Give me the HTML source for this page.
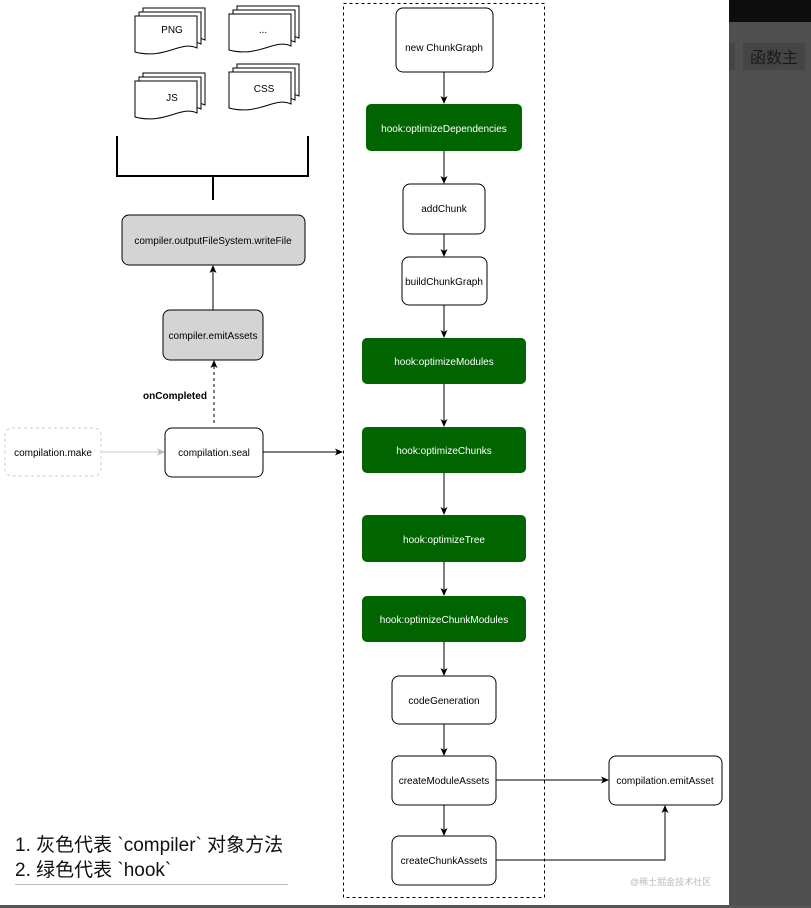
<!DOCTYPE html>
<html><head><meta charset="utf-8"><style>
html,body{margin:0;padding:0;background:#fff;width:811px;height:908px;overflow:hidden}
svg text{font-family:"Liberation Sans","Noto Sans CJK SC",sans-serif}
</style></head><body>
<svg width="811" height="908" viewBox="0 0 811 908" xmlns="http://www.w3.org/2000/svg">
<defs>
<marker id="a" markerWidth="8" markerHeight="8" refX="7" refY="4" orient="auto" markerUnits="userSpaceOnUse"><path d="M0,0.5 L8,4 L0,7.5 L2,4 Z" fill="#000"/></marker>
<marker id="g" markerWidth="8" markerHeight="8" refX="7" refY="4" orient="auto" markerUnits="userSpaceOnUse"><path d="M0,0.5 L8,4 L0,7.5 L2,4 Z" fill="#bbb"/></marker>
<g id="doc"><path d="M0,0 H62 V32 C46,24 30,44 0,36 Z" fill="#fff" stroke="#000" stroke-width="1"/></g>
</defs>
<!-- right dark panel -->
<rect x="729" y="0" width="82" height="908" fill="#4f4f4f"/>
<rect x="729" y="0" width="82" height="22" fill="#0d0d0d"/>
<rect x="729" y="43" width="6" height="27" fill="#454545"/>
<rect x="743" y="43" width="62" height="27" fill="#454545"/>
<text x="774" y="63" font-size="16" text-anchor="middle" fill="#1a1a1a">函数主</text>
<rect x="0" y="905" width="811" height="3" fill="#555"/>

<!-- docs -->
<g transform="translate(143,8)"><use href="#doc"/></g><g transform="translate(139,12)"><use href="#doc"/></g><g transform="translate(135,16)"><use href="#doc"/></g>
<text x="172" y="33" font-size="10" text-anchor="middle">PNG</text>
<g transform="translate(237,6)"><use href="#doc"/></g><g transform="translate(233,10)"><use href="#doc"/></g><g transform="translate(229,14)"><use href="#doc"/></g>
<text x="263" y="33" font-size="10" text-anchor="middle">...</text>
<g transform="translate(143,73)"><use href="#doc"/></g><g transform="translate(139,77)"><use href="#doc"/></g><g transform="translate(135,81)"><use href="#doc"/></g>
<text x="172" y="101" font-size="10" text-anchor="middle">JS</text>
<g transform="translate(237,64)"><use href="#doc"/></g><g transform="translate(233,68)"><use href="#doc"/></g><g transform="translate(229,72)"><use href="#doc"/></g>
<text x="264" y="92" font-size="10" text-anchor="middle">CSS</text>

<!-- bracket -->
<path d="M117,136 V176 H308 V136 M213,176 V200" fill="none" stroke="#000" stroke-width="2"/>

<rect x="122" y="215" width="183" height="50" rx="7" fill="#d4d4d4" stroke="#000"/>
<text x="213" y="244" font-size="10" text-anchor="middle">compiler.outputFileSystem.writeFile</text>
<line x1="213" y1="310" x2="213" y2="266" stroke="#000" marker-end="url(#a)"/>
<rect x="163" y="310" width="100" height="50" rx="7" fill="#d4d4d4" stroke="#000"/>
<text x="213" y="339" font-size="10" text-anchor="middle">compiler.emitAssets</text>
<line x1="214" y1="423" x2="214" y2="361" stroke="#000" stroke-dasharray="3,3" marker-end="url(#a)"/>
<text x="175" y="399" font-size="10" font-weight="bold" text-anchor="middle">onCompleted</text>

<rect x="5" y="428" width="96" height="48" rx="7" fill="#fff" stroke="#ccc" stroke-dasharray="3,3"/>
<text x="53" y="456" font-size="10" text-anchor="middle">compilation.make</text>
<line x1="101" y1="452" x2="164" y2="452" stroke="#ccc" marker-end="url(#g)"/>
<rect x="165" y="428" width="98" height="49" rx="7" fill="#fff" stroke="#000"/>
<text x="214" y="456" font-size="10" text-anchor="middle">compilation.seal</text>
<line x1="263" y1="452" x2="342" y2="452" stroke="#000" marker-end="url(#a)"/>

<rect x="343.5" y="3.5" width="201" height="894" fill="none" stroke="#000" stroke-dasharray="3,3"/>

<g font-size="10" text-anchor="middle">
<rect x="396" y="8" width="97" height="64" rx="7" fill="#fff" stroke="#000"/><text x="444" y="51">new ChunkGraph</text>
<line x1="444" y1="72" x2="444" y2="103" stroke="#000" marker-end="url(#a)"/>
<rect x="366" y="104" width="156" height="47" rx="5" fill="#006400"/><text x="444" y="132" fill="#fff">hook:optimizeDependencies</text>
<line x1="444" y1="151" x2="444" y2="183" stroke="#000" marker-end="url(#a)"/>
<rect x="403" y="184" width="82" height="50" rx="7" fill="#fff" stroke="#000"/><text x="444" y="212">addChunk</text>
<line x1="444" y1="234" x2="444" y2="256" stroke="#000" marker-end="url(#a)"/>
<rect x="402" y="257" width="85" height="48" rx="7" fill="#fff" stroke="#000"/><text x="444" y="285">buildChunkGraph</text>
<line x1="444" y1="305" x2="444" y2="337" stroke="#000" marker-end="url(#a)"/>
<rect x="362" y="338" width="164" height="46" rx="5" fill="#006400"/><text x="444" y="365" fill="#fff">hook:optimizeModules</text>
<line x1="444" y1="384" x2="444" y2="426" stroke="#000" marker-end="url(#a)"/>
<rect x="362" y="427" width="164" height="46" rx="5" fill="#006400"/><text x="444" y="454" fill="#fff">hook:optimizeChunks</text>
<line x1="444" y1="473" x2="444" y2="514" stroke="#000" marker-end="url(#a)"/>
<rect x="362" y="515" width="164" height="47" rx="5" fill="#006400"/><text x="444" y="543" fill="#fff">hook:optimizeTree</text>
<line x1="444" y1="562" x2="444" y2="595" stroke="#000" marker-end="url(#a)"/>
<rect x="362" y="596" width="164" height="46" rx="5" fill="#006400"/><text x="444" y="623" fill="#fff">hook:optimizeChunkModules</text>
<line x1="444" y1="642" x2="444" y2="675" stroke="#000" marker-end="url(#a)"/>
<rect x="392" y="676" width="104" height="48" rx="7" fill="#fff" stroke="#000"/><text x="444" y="704">codeGeneration</text>
<line x1="444" y1="724" x2="444" y2="755" stroke="#000" marker-end="url(#a)"/>
<rect x="392" y="756" width="104" height="49" rx="7" fill="#fff" stroke="#000"/><text x="444" y="784">createModuleAssets</text>
<line x1="444" y1="805" x2="444" y2="835" stroke="#000" marker-end="url(#a)"/>
<rect x="392" y="836" width="104" height="49" rx="7" fill="#fff" stroke="#000"/><text x="444" y="864">createChunkAssets</text>
<rect x="609" y="756" width="113" height="49" rx="7" fill="#fff" stroke="#000"/><text x="665" y="784">compilation.emitAsset</text>
</g>
<line x1="496" y1="780" x2="608" y2="780" stroke="#000" marker-end="url(#a)"/>
<path d="M496,860 H665 V806" fill="none" stroke="#000" marker-end="url(#a)"/>

<text x="15" y="851" font-size="19" fill="#111">1. 灰色代表 `compiler` 对象方法</text>
<text x="15" y="876" font-size="19" fill="#111">2. 绿色代表 `hook`</text>
<line x1="15" y1="884.5" x2="288" y2="884.5" stroke="#bbb"/>
<text x="630" y="885" font-size="9" fill="#bbb">@稀土掘金技术社区</text>
</svg>
</body></html>
